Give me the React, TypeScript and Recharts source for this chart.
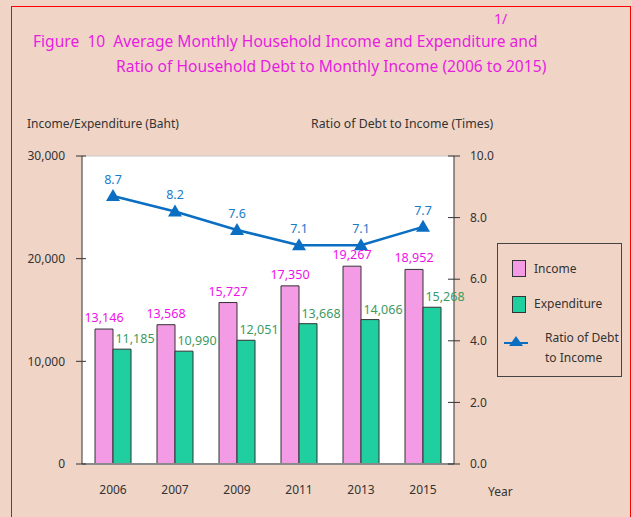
import React from 'react';
import { ComposedChart, Bar, Line, XAxis, YAxis, LabelList, ReferenceLine, CartesianGrid } from 'recharts';

const years = ['2006', '2007', '2009', '2011', '2013', '2015'];
const income = [13146, 13568, 15727, 17350, 19267, 18952];
const expenditure = [11185, 10990, 12051, 13668, 14066, 15268];
const debtRatio = [8.7, 8.2, 7.6, 7.1, 7.1, 7.7];
const bahtTicks = [0, 10000, 20000, 30000];
const ratioTicks = [0, 2, 4, 6, 8, 10];

const data = years.map((year, i) => ({
  year,
  income: income[i],
  expenditure: expenditure[i],
  ratio: debtRatio[i],
}));

const FONT = '"Noto Sans", "DejaVu Sans", sans-serif';
const PINK = '#F39BE4';
const GREEN = '#20CFA0';
const BLUE = '#0A6FC2';

const fmt = (v: number) => v.toLocaleString('en-US');

const LeftTick = (props: any) => {
  const { x, y, payload } = props;
  return (
    <g>
      <line x1={x - 6} x2={x + 4} y1={y} y2={y} stroke="#333" />
      <text x={x - 17} y={y} dy="0.35em" textAnchor="end" fontSize={12} fill="#333" fontFamily={FONT}>
        {fmt(payload.value)}
      </text>
    </g>
  );
};

const RightTick = (props: any) => {
  const { x, y, payload } = props;
  return (
    <g>
      <line x1={x - 6} x2={x + 6} y1={y} y2={y} stroke="#333" />
      <text x={x + 16} y={y} dy="0.35em" textAnchor="start" fontSize={12} fill="#333" fontFamily={FONT}>
        {payload.value.toFixed(1)}
      </text>
    </g>
  );
};

const IncomeLabel = (props: any) => {
  const { x, y, width, value } = props;
  return (
    <text x={x + width / 2} y={y - 7} textAnchor="middle" fontSize={12.5} fill="#F010E8" fontFamily={FONT}>
      {fmt(value)}
    </text>
  );
};

const ExpLabel = (props: any) => {
  const { x, y, width, value } = props;
  return (
    <text x={x + width / 2 + 13} y={y - 6} textAnchor="middle" fontSize={12.5} fill="#3C9A62" fontFamily={FONT}>
      {fmt(value)}
    </text>
  );
};

const RatioLabel = (props: any) => {
  const { x, y, value } = props;
  return (
    <text x={x} y={y - 12} textAnchor="middle" fontSize={12.5} fill="#1A7CC8" fontFamily={FONT}>
      {value.toFixed(1)}
    </text>
  );
};

const Triangle = (props: any) => {
  const { cx, cy } = props;
  if (cx == null || cy == null) return null;
  return <polygon points={`${cx},${cy - 7} ${cx - 7},${cy + 5} ${cx + 7},${cy + 5}`} fill={BLUE} />;
};

const LegendBox = () => (
  <div
    style={{
      position: 'absolute',
      left: 497,
      top: 243,
      width: 125,
      height: 134,
      boxSizing: 'border-box',
      border: '1.5px solid #444',
      fontFamily: FONT,
      fontSize: 12,
      color: '#333',
    }}
  >
    <div style={{ position: 'absolute', left: 14, top: 16, width: 12, height: 15, background: PINK, border: '1px solid #333' }} />
    <div style={{ position: 'absolute', left: 36, top: 16, lineHeight: '17px' }}>Income</div>
    <div style={{ position: 'absolute', left: 14, top: 52, width: 12, height: 15, background: GREEN, border: '1px solid #333' }} />
    <div style={{ position: 'absolute', left: 36, top: 51, lineHeight: '17px' }}>Expenditure</div>
    <svg style={{ position: 'absolute', left: 6, top: 90 }} width={24} height={14}>
      <line x1={0} x2={24} y1={9} y2={9} stroke={BLUE} strokeWidth={2} />
      <polygon points="12,2 5,12 19,12" fill={BLUE} />
    </svg>
    <div style={{ position: 'absolute', left: 47, top: 84, lineHeight: '20px' }}>
      Ratio of Debt
      <br />
      to Income
    </div>
  </div>
);

export default function App() {
  return (
    <div
      style={{
        position: 'absolute',
        left: 0,
        top: 0,
        width: 632,
        height: 517,
        background: '#F0D5C6',
        overflow: 'hidden',
        fontFamily: FONT,
      }}
    >
      <div
        style={{
          position: 'absolute',
          left: 11,
          top: 6,
          width: 618,
          height: 530,
          border: '1px solid #FF0000',
        }}
      />
      <div style={{ position: 'absolute', left: 494, top: 9, fontSize: 14, color: '#E81CE0' }}>1/</div>
      <div style={{ position: 'absolute', left: 33, top: 30, fontSize: 15.6, color: '#E81CE0', whiteSpace: 'pre' }}>
        {'Figure  10  Average Monthly Household Income and Expenditure and'}
      </div>
      <div style={{ position: 'absolute', left: 116, top: 55, fontSize: 15.6, color: '#E81CE0', whiteSpace: 'pre' }}>
        {'Ratio of Household Debt to Monthly Income (2006 to 2015)'}
      </div>
      <div style={{ position: 'absolute', left: 27, top: 115, fontSize: 12, color: '#333' }}>Income/Expenditure (Baht)</div>
      <div style={{ position: 'absolute', left: 311, top: 115, fontSize: 12.3, color: '#333' }}>Ratio of Debt to Income (Times)</div>
      <div style={{ position: 'absolute', left: 488, top: 483, fontSize: 12, color: '#333' }}>Year</div>

      <ComposedChart
        width={632}
        height={517}
        data={data}
        margin={{ top: 156, right: 0, bottom: 0, left: 0 }}
        barSize={18}
        barGap={0}
        style={{ position: 'absolute', left: 0, top: 0 }}
      >
        <CartesianGrid horizontal={false} vertical={false} fill="#FFFFFF" />
        <ReferenceLine yAxisId="left" y={30000} stroke="#C8C8C8" />
        <XAxis
          dataKey="year"
          height={53}
          tickLine={false}
          tickSize={0}
          tickMargin={21}
          axisLine={{ stroke: '#8A8A8A', strokeWidth: 2 }}
          tick={{ fontSize: 12, fill: '#333', fontFamily: FONT }}
        />
        <YAxis
          yAxisId="left"
          width={82}
          domain={[0, 30000]}
          ticks={bahtTicks}
          tickLine={false}
          tickSize={0}
          tickMargin={0}
          tick={<LeftTick />}
          axisLine={{ stroke: '#333' }}
          interval={0}
        />
        <YAxis
          yAxisId="right"
          orientation="right"
          width={178}
          domain={[0, 10]}
          ticks={ratioTicks}
          tickLine={false}
          tickSize={0}
          tickMargin={0}
          tick={<RightTick />}
          axisLine={{ stroke: '#333' }}
          interval={0}
        />
        <Bar yAxisId="left" dataKey="income" fill={PINK} stroke="#333" strokeWidth={1} isAnimationActive={false}>
          <LabelList dataKey="income" content={<IncomeLabel />} />
        </Bar>
        <Bar yAxisId="left" dataKey="expenditure" fill={GREEN} stroke="#333" strokeWidth={1} isAnimationActive={false}>
          <LabelList dataKey="expenditure" content={<ExpLabel />} />
        </Bar>
        <Line
          yAxisId="right"
          dataKey="ratio"
          stroke={BLUE}
          strokeWidth={2.5}
          dot={<Triangle />}
          activeDot={false}
          isAnimationActive={false}
        >
          <LabelList dataKey="ratio" content={<RatioLabel />} />
        </Line>
      </ComposedChart>
      <LegendBox />
    </div>
  );
}
